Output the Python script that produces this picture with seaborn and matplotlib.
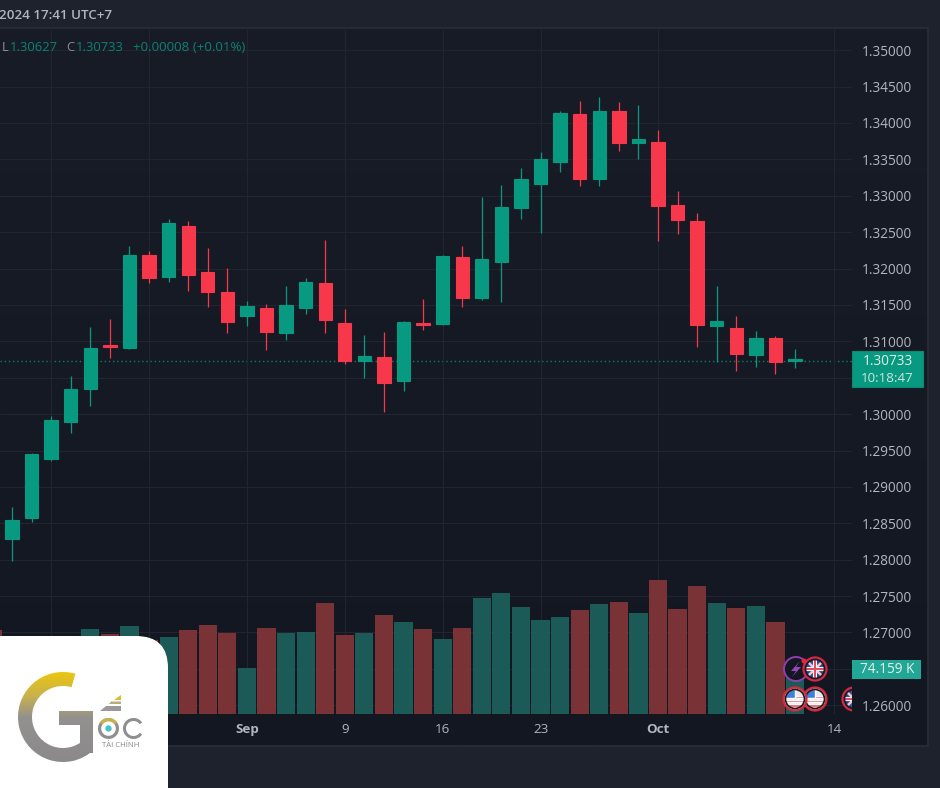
import numpy as np
import pandas as pd
import seaborn as sns
import matplotlib
matplotlib.use("Agg")
import matplotlib.pyplot as plt
from matplotlib.patches import Circle, Wedge, Rectangle, Polygon, PathPatch
from matplotlib.path import Path
from matplotlib.colors import LinearSegmentedColormap

# daily GBP/USD candles, the first one sits just off the left edge
opens = [1.28400, 1.28284, 1.28569, 1.29387, 1.29887, 1.30349, 1.30940, 1.30904, 1.32185, 1.31879, 1.32584,
         1.31952, 1.31673, 1.31352, 1.31453, 1.31118, 1.31457, 1.31801, 1.31247, 1.30725, 1.30784, 1.30455,
         1.31247, 1.31238, 1.32158, 1.31599, 1.32085, 1.32831, 1.33165, 1.33459, 1.34126, 1.33229, 1.34163,
         1.33728, 1.33738, 1.32868, 1.32648, 1.31214, 1.31183, 1.30812, 1.31045, 1.30725]
highs = [1.28500, 1.28720, 1.29462, 1.29974, 1.30527, 1.31196, 1.31302, 1.32313, 1.32240, 1.32680, 1.32648,
         1.32277, 1.32003, 1.31554, 1.31508, 1.31760, 1.31865, 1.32387, 1.31444, 1.31087, 1.31124, 1.31275,
         1.31581, 1.32185, 1.32305, 1.32982, 1.33147, 1.33380, 1.33600, 1.34163, 1.34301, 1.34356, 1.34291,
         1.34246, 1.33902, 1.33060, 1.32762, 1.31760, 1.31352, 1.31146, 1.31073, 1.30890]
lows = [1.28050, 1.27986, 1.28522, 1.29360, 1.29745, 1.30115, 1.30775, 1.30890, 1.31801, 1.31819, 1.31687,
        1.31467, 1.31110, 1.31214, 1.30880, 1.31022, 1.31379, 1.31110, 1.30684, 1.30500, 1.30033, 1.30321,
        1.31155, 1.31224, 1.31467, 1.31567, 1.31544, 1.32684, 1.32492, 1.33330, 1.33133, 1.33133, 1.33614,
        1.33508, 1.32382, 1.32470, 1.30926, 1.30712, 1.30592, 1.30647, 1.30555, 1.30627]
closes = [1.28300, 1.28541, 1.29452, 1.29915, 1.30341, 1.30904, 1.30918, 1.32185, 1.31865, 1.32621, 1.31907,
          1.31673, 1.31265, 1.31481, 1.31132, 1.31495, 1.31815, 1.31288, 1.30729, 1.30798, 1.30431, 1.31261,
          1.31224, 1.32172, 1.31599, 1.32135, 1.32845, 1.33225, 1.33500, 1.34136, 1.33229, 1.34163, 1.33728,
          1.33779, 1.32854, 1.32662, 1.31224, 1.31275, 1.30826, 1.31045, 1.30720, 1.30733]
# volume in thousands
volumes = [141.5, 111, 118, 125, 128, 143.2, 135.3, 148.3, 124.7, 129.2, 141.5, 150, 137, 77.5, 144.9, 137,
           138.7, 187.5, 132.6, 137, 166.8, 154.5, 143.2, 126.4, 144.9, 195.5, 203.4, 179.8, 158.9, 164,
           174.7, 185.9, 188.7, 170.2, 225.8, 176.4, 215.7, 187.5, 178.1, 182.5, 154.5, 74.159]

price_ticks = [1.26 + 0.005 * i for i in range(19)]
# these two sit behind the price and volume tags in the original
hidden_prices = ["1.26500", "1.30500"]
date_ticks = [3, 8, 13, 18, 23, 28, 34, 43]
date_labels = ["19", "26", "Sep", "9", "16", "23", "Oct", "14"]
last_price = 1.30733

UP = "#089981"
DOWN = "#f7374a"
VOL_UP = "#1d605d"
VOL_DOWN = "#823639"
GRID = "#212531"
TEXT = "#b2b5be"
GUTTER = "#1e222d"
FONT = ["Open Sans", "DejaVu Sans"]

W, H = 940, 788
PX_PER_PRICE = 7280
REF_Y, REF_PRICE = 341.3, 1.31
XLIM = (0.387, 43.91)
MIN_BODY = 0.00028


def px_axes(fig, x0, y0, x1, y1):
    return fig.add_axes([x0 / W, 1 - y1 / H, (x1 - x0) / W, (y1 - y0) / H])


def draw_background(fig):
    ax = px_axes(fig, 0, 0, W, H)
    ax.set_zorder(0)
    ax.axis("off")
    cmap = LinearSegmentedColormap.from_list("pane", ["#181c27", "#131722"])
    ax.imshow(np.linspace(0, 1, 256).reshape(-1, 1), cmap=cmap, extent=(0, 928, 746, 28), aspect="auto")
    ax.set_xlim(0, W)
    ax.set_ylim(H, 0)
    ax.add_patch(Rectangle((-2, 28), 930, 718, fill=False, ec="#2a2e39", lw=1.2))


def draw_volume(fig, df):
    # above the candle axes so the grid only shows faintly through the bars
    ax = px_axes(fig, 0, 28, 852, 714)
    ax.set_zorder(2.5)
    ax.patch.set_alpha(0)
    sns.barplot(data=df, x="idx", y="volume", hue="side", palette={"up": VOL_UP, "down": VOL_DOWN},
                native_scale=True, dodge=False, width=0.93, saturation=1, legend=False,
                edgecolor="none", linewidth=0, alpha=0.93, ax=ax)
    ax.set_xlim(*XLIM)
    ax.set_ylim(0, 686 * 1.685)
    ax.axis("off")


def draw_candles(fig, df):
    ax = px_axes(fig, 0, 28, 852, 714)
    ax.set_zorder(2)
    ax.patch.set_alpha(0)
    colors = np.where(df["side"] == "up", UP, DOWN)
    ax.vlines(df["idx"], df["low"], df["high"], colors=colors, lw=0.9)
    bottoms = df[["open", "close"]].min(axis=1)
    heights = (df["open"] - df["close"]).abs().clip(lower=MIN_BODY)
    ax.bar(df["idx"], heights, bottom=bottoms, width=0.68, color=colors, edgecolor=colors, lw=0.8)
    ax.axhline(last_price, color="#0f7d6c", lw=1.0, ls=(0, (1, 2)), zorder=0.5)

    labels = ["%.5f" % p for p in price_ticks]
    ax.set_yticks(price_ticks)
    ax.set_yticklabels(["" if t in hidden_prices else t for t in labels], fontsize=9.8, color=TEXT, family=FONT)
    ax.yaxis.tick_right()
    ax.set_xticks(date_ticks)
    ax.set_xticklabels(date_labels, fontsize=9.6, color=TEXT, family=FONT)
    for lab in ax.get_xticklabels():
        if lab.get_text() in ("Sep", "Oct"):
            lab.set_fontweight("bold")
    ax.tick_params(axis="both", length=0)
    ax.tick_params(axis="y", pad=7.2)
    ax.tick_params(axis="x", pad=6.5)
    ax.grid(True, color=GRID, lw=0.8)
    ax.set_axisbelow(True)
    for s in ax.spines.values():
        s.set_visible(False)
    ax.set_xlim(*XLIM)
    ax.set_ylim(REF_PRICE - (714 - REF_Y) / PX_PER_PRICE, REF_PRICE + (REF_Y - 28) / PX_PER_PRICE)


def us_flag(ax, x, y, z=5):
    ax.add_patch(Circle((x, y), 11.5, fc="#e8e8ec", ec="#d8283c", lw=1.6, zorder=z))
    clip = Circle((x, y), 9, transform=ax.transData)
    for k in range(3):
        st = Rectangle((x - 10, y - 3 + k * 4.2), 20, 2.1, fc="#e8505b", zorder=z + 0.1)
        ax.add_patch(st)
        st.set_clip_path(clip)
    blue = Rectangle((x - 10, y - 10), 10, 9, fc="#3f7fdc", zorder=z + 0.2)
    ax.add_patch(blue)
    blue.set_clip_path(clip)
    ax.add_patch(Circle((x, y), 9.5, fill=False, ec="#1a1a22", lw=1.2, zorder=z + 0.3))


def uk_flag(ax, x, y, z=5):
    ax.add_patch(Circle((x, y), 11.5, fc="#23478f", ec="#d8283c", lw=1.6, zorder=z))
    clip = Circle((x, y), 9, transform=ax.transData)
    parts = [([x - 9, x + 9], [y - 9, y + 9], "#efc9cf", 1.8), ([x - 9, x + 9], [y + 9, y - 9], "#efc9cf", 1.8),
             ([x - 10, x + 10], [y, y], "#f4f4f6", 3.0), ([x, x], [y - 10, y + 10], "#f4f4f6", 3.0),
             ([x - 10, x + 10], [y, y], "#e2485a", 1.4), ([x, x], [y - 10, y + 10], "#e2485a", 1.4)]
    for xs, ys, col, lw in parts:
        line, = ax.plot(xs, ys, color=col, lw=lw, zorder=z + 0.1, solid_capstyle="butt")
        line.set_clip_path(clip)
    ax.add_patch(Circle((x, y), 9.5, fill=False, ec="#1a1a22", lw=1.2, zorder=z + 0.2))


def draw_events(ax):
    ax.add_patch(Circle((796, 669), 12, fc="#131722", ec="#8e3fae", lw=1.4, zorder=4))
    ax.add_patch(Polygon([[800, 661], [791, 671], [796, 671], [792, 677], [801, 667], [796, 667]],
                         fc="#9b45bd", ec="none", zorder=4.5))
    uk_flag(ax, 815, 669)
    ax.add_patch(Circle((804, 661), 2.5, fc="#e8283c", ec="none", zorder=6))
    us_flag(ax, 815, 699)
    us_flag(ax, 795, 699, z=7)
    # this flag runs under the price scale, so it gets its own small clipped axes
    sub = px_axes(ax.figure, 835, 680, 852, 715)
    sub.set_zorder(3.5)
    sub.axis("off")
    uk_flag(sub, 854, 699)
    sub.set_xlim(835, 852)
    sub.set_ylim(715, 680)


def gradient_fill(ax, patch, extent, zorder=21):
    cmap = LinearSegmentedColormap.from_list("gold", [(0, "#ecc60f"), (0.25, "#c9b24a"), (0.5, "#939090"), (1, "#8b898a")])
    img = ax.imshow(np.linspace(0, 1, 256).reshape(-1, 1), cmap=cmap, extent=extent, aspect="auto", zorder=zorder)
    patch.set_transform(ax.transData)
    img.set_clip_path(patch)


def draw_logo(ax):
    # white card with one rounded corner
    r = 32
    verts = [(-2, 636), (168 - r, 636), (168, 636), (168, 636 + r), (168, 790), (-2, 790), (-2, 636)]
    codes = [Path.MOVETO, Path.LINETO, Path.CURVE3, Path.CURVE3, Path.LINETO, Path.LINETO, Path.CLOSEPOLY]
    ax.add_patch(PathPatch(Path(verts, codes), fc="white", ec="none", zorder=20))

    ext = (15, 100, 764, 672)
    gradient_fill(ax, Wedge((63, 717), 45, 48, 286, width=14), ext)
    gradient_fill(ax, Rectangle((59, 711), 34, 14), ext)
    gradient_fill(ax, Rectangle((80, 711), 13, 42), ext)

    ax.add_patch(Polygon([[114, 700], [121, 695], [121, 700]], fc="#d8bd2c", ec="none", zorder=21))
    ax.add_patch(Polygon([[109, 704], [111, 701.5], [121, 701.5], [121, 704]], fc="#b9ad7c", ec="none", zorder=21))
    ax.add_patch(Polygon([[100, 711], [106, 706], [121, 706], [121, 711]], fc="#9b9999", ec="none", zorder=21))
    ax.add_patch(Wedge((108.5, 728.5), 10.5, 0, 360, width=3.2, fc="#918f8e", ec="none", zorder=21))
    ax.add_patch(Wedge((108.5, 728.5), 10.5, 215, 325, width=3.2, fc="#c9b24a", ec="none", zorder=22))
    ax.add_patch(Circle((108.5, 728.5), 3.2, fc="#46c3cb", ec="none", zorder=22))
    ax.add_patch(Wedge((133.5, 728.5), 10.5, 35, 325, width=3.0, fc="#8f8d8d", ec="none", zorder=21))
    ax.text(120.5, 745.5, "TÀI CHÍNH", fontsize=5.6, color="#8a8889", ha="center", va="center", family=FONT, zorder=22)


def draw_overlay(fig):
    ax = px_axes(fig, 0, 0, W, H)
    ax.set_zorder(3)
    ax.patch.set_alpha(0)
    ax.axis("off")

    # header
    ax.text(-1, 15, "2024 17:41 UTC+7", fontsize=9.6, color=TEXT, va="center", family=FONT, fontweight="semibold")
    head = "#0c8270"
    ax.text(2, 47, "L", fontsize=9.4, color="#8b8e98", va="center", family=FONT)
    ax.text(10, 47, "1.30627", fontsize=9.4, color=head, va="center", family=FONT)
    ax.text(66, 47, "C", fontsize=9.4, color="#8b8e98", va="center", family=FONT)
    ax.text(76, 47, "1.30733", fontsize=9.4, color=head, va="center", family=FONT)
    ax.text(133, 47, "+0.00008 (+0.01%)", fontsize=9.6, color=head, va="center", family=FONT)

    # price scale tags
    ax.add_patch(Rectangle((852, 351), 71, 36, fc=UP, ec="#0a8a75", lw=0.8, zorder=4))
    ax.text(887.5, 361, "1.30733", fontsize=9.8, color="#e4ece9", ha="center", va="center", family=FONT, zorder=5)
    ax.text(887.5, 378, "10:18:47", fontsize=9.6, color="#cfe6e0", ha="center", va="center", family=FONT, zorder=5)
    ax.add_patch(Rectangle((852, 660), 69, 19, fc="#22a695", ec="none", zorder=4))
    ax.text(887, 669.5, "74.159 K", fontsize=9.8, color="#e6f2ef", ha="center", va="center", family=FONT, zorder=5)

    draw_events(ax)
    draw_logo(ax)
    ax.set_xlim(0, W)
    ax.set_ylim(H, 0)


def main():
    sns.set_theme(style="dark")
    plt.rcParams["font.family"] = FONT

    df = pd.DataFrame({"open": opens, "high": highs, "low": lows, "close": closes, "volume": volumes})
    df["idx"] = np.arange(len(df))
    df["side"] = np.where(df["close"] >= df["open"], "up", "down")

    fig = plt.figure(figsize=(W / 100, H / 100), dpi=100, facecolor=GUTTER)
    draw_background(fig)
    draw_volume(fig, df)
    draw_candles(fig, df)
    draw_overlay(fig)
    fig.savefig("out.png", dpi=100, facecolor=GUTTER)


if __name__ == "__main__":
    main()
